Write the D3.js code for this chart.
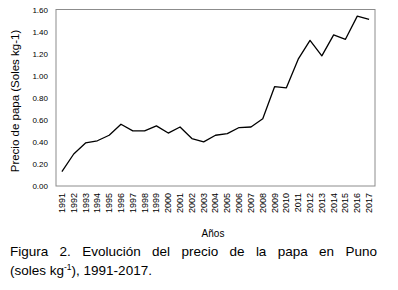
<!DOCTYPE html>
<html>
<head>
<meta charset="utf-8">
<title>Precio de papa Puno</title>
<style>
body { margin: 0; background: #fff; }
svg { font-family: "Liberation Sans", Arial, sans-serif; }
.frame { fill: none; stroke: #8c8c8c; stroke-width: 1px; }
.line { fill: none; stroke: #000; stroke-width: 1.3px; stroke-linejoin: round; }
</style>
</head>
<body>
<script src="https://cdnjs.cloudflare.com/ajax/libs/d3/7.8.5/d3.min.js"></script>
<script>

// data
var years = ["1991","1992","1993","1994","1995","1996","1997","1998","1999","2000",
             "2001","2002","2003","2004","2005","2006","2007","2008","2009","2010",
             "2011","2012","2013","2014","2015","2016","2017"];
var precio = [0.13, 0.29, 0.39, 0.41, 0.46, 0.56, 0.50, 0.50, 0.545, 0.48,
              0.535, 0.43, 0.40, 0.46, 0.475, 0.53, 0.535, 0.61, 0.90, 0.89,
              1.15, 1.32, 1.18, 1.37, 1.33, 1.54, 1.51];
var yTicks = [0, 0.2, 0.4, 0.6, 0.8, 1.0, 1.2, 1.4, 1.6];

var width = 398,
    height = 290;

// plot box ("top" is taken by window.top, so use other names)
var pLeft = 56, pRight = 375, pTop = 9.5, pBottom = 186;

var svg = d3.select("body").append("svg")
    .attr("width", width)
    .attr("height", height);

var x = d3.scaleBand()
    .domain(years)
    .range([pLeft, pRight]);

var y = d3.scaleLinear()
    .domain([0, 1.6])
    .range([pBottom, pTop]);

// plot frame
svg.append("rect")
    .attr("class", "frame")
    .attr("x", pLeft)
    .attr("y", pTop)
    .attr("width", pRight - pLeft)
    .attr("height", pBottom - pTop);

// y axis, labels only
var yAxis = svg.append("g")
    .attr("transform", "translate(" + pLeft + ",0)")
    .call(d3.axisLeft(y).tickValues(yTicks).tickSize(0).tickPadding(8)
      .tickFormat(d3.format(".2f")));
yAxis.select(".domain").remove();
yAxis.selectAll("text")
    .attr("font-size", "8px")
    .attr("font-family", "Liberation Sans, Arial, sans-serif")
    .attr("fill", "#000");

// x axis, rotated labels
var xAxis = svg.append("g")
    .attr("transform", "translate(0," + pBottom + ")")
    .call(d3.axisBottom(x).tickSize(0));
xAxis.select(".domain").remove();
xAxis.selectAll("text")
    .attr("font-size", "9px")
    .attr("font-family", "Liberation Sans, Arial, sans-serif")
    .attr("fill", "#000")
    .attr("text-anchor", "end")
    .attr("dy", "0.33em")
    .attr("transform", "translate(0,7) rotate(-90)")
    .attr("x", 0)
    .attr("y", 0);

// the price line
var line = d3.line()
    .x(function(d, i) { return x(years[i]) + x.bandwidth() / 2; })
    .y(function(d) { return y(d); });

svg.append("path")
    .datum(precio)
    .attr("class", "line")
    .attr("d", line);

// axis titles
svg.append("text")
    .attr("transform", "translate(19,101) rotate(-90)")
    .attr("text-anchor", "middle")
    .attr("font-size", "11.5px")
    .text("Precio de papa (Soles kg-1)");

svg.append("text")
    .attr("x", 213)
    .attr("y", 237)
    .attr("text-anchor", "middle")
    .attr("font-size", "10px")
    .text("Años");

// caption, first line justified between 10 and 377
var words = "Figura 2. Evolución del precio de la papa en Puno".split(" ");
var cap = svg.append("g").attr("font-size", "13.5px");
var wNodes = cap.selectAll("text.w")
    .data(words).enter()
    .append("text")
    .attr("class", "w")
    .attr("y", 256)
    .text(function(d) { return d; });
var total = 0;
wNodes.each(function() { total += this.getComputedTextLength(); });
var gap = (377 - 10 - total) / (words.length - 1);
var cx = 10;
wNodes.each(function() {
  d3.select(this).attr("x", cx);
  cx += this.getComputedTextLength() + gap;
});

var l2 = cap.append("text").attr("x", 10).attr("y", 275);
l2.append("tspan").text("(soles kg");
l2.append("tspan").attr("dy", -5).attr("font-size", "8.5px").text("-1");
l2.append("tspan").attr("dy", 5).text("), 1991-2017.");

</script>
</body>
</html>
